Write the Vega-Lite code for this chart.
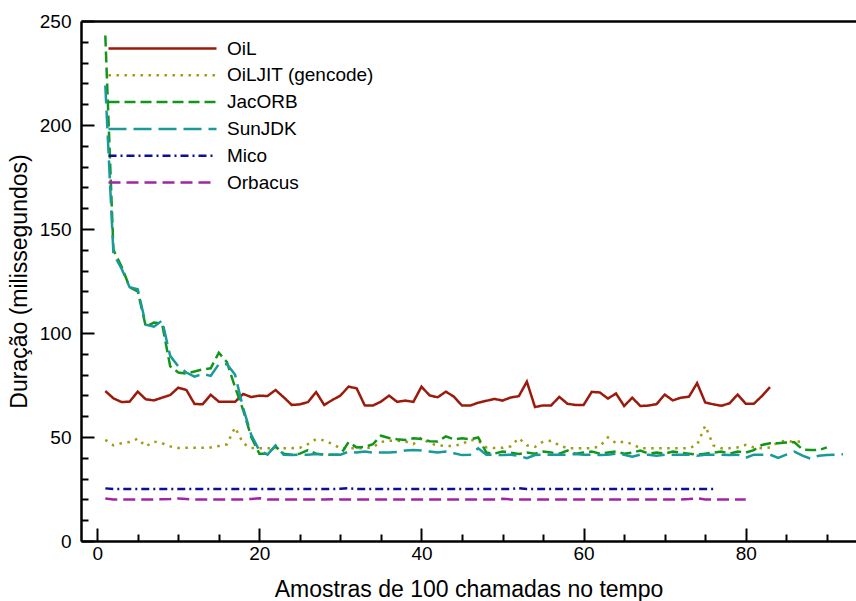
{
"$schema": "https://vega.github.io/schema/vega-lite/v6.json",
"width": 775, "height": 520,
"autosize": "none",
"padding": {"left": 81, "top": 21, "right": 0, "bottom": 60},
"background": "white",
"config": {"view": {"stroke": null}, "font": "Liberation Sans"},
"data": {"values": [
{"x":1,"OiL":72.1,"OiLJIT (gencode)":48.6,"JacORB":243,"SunJDK":219,"Mico":25.3,"Orbacus":20.4},
{"x":2,"OiL":68.6,"OiLJIT (gencode)":46,"JacORB":140,"SunJDK":138,"Mico":25,"Orbacus":20},
{"x":3,"OiL":66.8,"OiLJIT (gencode)":47,"JacORB":132,"SunJDK":131,"Mico":25,"Orbacus":20},
{"x":4,"OiL":67,"OiLJIT (gencode)":47.6,"JacORB":122,"SunJDK":122,"Mico":25,"Orbacus":20},
{"x":5,"OiL":71.8,"OiLJIT (gencode)":49.2,"JacORB":120,"SunJDK":121,"Mico":25,"Orbacus":20},
{"x":6,"OiL":68.1,"OiLJIT (gencode)":45.5,"JacORB":103,"SunJDK":104,"Mico":25,"Orbacus":20},
{"x":7,"OiL":67.6,"OiLJIT (gencode)":47.8,"JacORB":105,"SunJDK":103,"Mico":25,"Orbacus":20},
{"x":8,"OiL":68.9,"OiLJIT (gencode)":47,"JacORB":104.5,"SunJDK":106,"Mico":25,"Orbacus":20.1},
{"x":9,"OiL":70.2,"OiLJIT (gencode)":45.5,"JacORB":84,"SunJDK":89,"Mico":25,"Orbacus":20.2},
{"x":10,"OiL":73.7,"OiLJIT (gencode)":44.7,"JacORB":81,"SunJDK":84,"Mico":25,"Orbacus":20.4},
{"x":11,"OiL":72.6,"OiLJIT (gencode)":44.8,"JacORB":80.5,"SunJDK":81,"Mico":25,"Orbacus":20.2},
{"x":12,"OiL":65.9,"OiLJIT (gencode)":44.8,"JacORB":81.5,"SunJDK":79,"Mico":25,"Orbacus":20},
{"x":13,"OiL":65.7,"OiLJIT (gencode)":44.8,"JacORB":82.5,"SunJDK":80.3,"Mico":25,"Orbacus":20},
{"x":14,"OiL":70.3,"OiLJIT (gencode)":45,"JacORB":83,"SunJDK":79.4,"Mico":25,"Orbacus":20},
{"x":15,"OiL":67,"OiLJIT (gencode)":45.7,"JacORB":90.5,"SunJDK":85,"Mico":25,"Orbacus":20},
{"x":16,"OiL":66.9,"OiLJIT (gencode)":46.5,"JacORB":86,"SunJDK":85,"Mico":25,"Orbacus":20},
{"x":17,"OiL":66.9,"OiLJIT (gencode)":54.6,"JacORB":74,"SunJDK":80,"Mico":25,"Orbacus":20},
{"x":18,"OiL":70.7,"OiLJIT (gencode)":47,"JacORB":63,"SunJDK":64,"Mico":25,"Orbacus":20},
{"x":19,"OiL":69.2,"OiLJIT (gencode)":44.7,"JacORB":50,"SunJDK":51,"Mico":25,"Orbacus":20.2},
{"x":20,"OiL":69.9,"OiLJIT (gencode)":44.6,"JacORB":42,"SunJDK":43.5,"Mico":25,"Orbacus":20.5},
{"x":21,"OiL":69.7,"OiLJIT (gencode)":44.6,"JacORB":42,"SunJDK":41.5,"Mico":25,"Orbacus":20},
{"x":22,"OiL":72.6,"OiLJIT (gencode)":44.6,"JacORB":45.5,"SunJDK":46,"Mico":25,"Orbacus":20},
{"x":23,"OiL":69.1,"OiLJIT (gencode)":44.6,"JacORB":42,"SunJDK":41.5,"Mico":25,"Orbacus":20},
{"x":24,"OiL":65.4,"OiLJIT (gencode)":44.6,"JacORB":41.5,"SunJDK":41.3,"Mico":25,"Orbacus":20},
{"x":25,"OiL":65.7,"OiLJIT (gencode)":44.8,"JacORB":42,"SunJDK":41.5,"Mico":25,"Orbacus":20},
{"x":26,"OiL":66.8,"OiLJIT (gencode)":46.6,"JacORB":43.7,"SunJDK":41.5,"Mico":25,"Orbacus":20},
{"x":27,"OiL":71.6,"OiLJIT (gencode)":49,"JacORB":42,"SunJDK":41.8,"Mico":25,"Orbacus":20},
{"x":28,"OiL":65.4,"OiLJIT (gencode)":48.4,"JacORB":41.5,"SunJDK":41.5,"Mico":25,"Orbacus":20},
{"x":29,"OiL":67.8,"OiLJIT (gencode)":46.6,"JacORB":41.5,"SunJDK":41.5,"Mico":25,"Orbacus":20.1},
{"x":30,"OiL":69.9,"OiLJIT (gencode)":44.6,"JacORB":41.5,"SunJDK":41.5,"Mico":25.1,"Orbacus":20},
{"x":31,"OiL":74.2,"OiLJIT (gencode)":44.6,"JacORB":47.5,"SunJDK":42.9,"Mico":25.4,"Orbacus":20},
{"x":32,"OiL":73.4,"OiLJIT (gencode)":44.6,"JacORB":45,"SunJDK":42.5,"Mico":25,"Orbacus":20},
{"x":33,"OiL":65.2,"OiLJIT (gencode)":44.6,"JacORB":45.2,"SunJDK":43,"Mico":25,"Orbacus":20},
{"x":34,"OiL":65.1,"OiLJIT (gencode)":45,"JacORB":46.5,"SunJDK":42.5,"Mico":25,"Orbacus":20},
{"x":35,"OiL":67,"OiLJIT (gencode)":47.6,"JacORB":50.6,"SunJDK":42.5,"Mico":25,"Orbacus":20},
{"x":36,"OiL":69.9,"OiLJIT (gencode)":48.2,"JacORB":49.5,"SunJDK":42.5,"Mico":25,"Orbacus":20},
{"x":37,"OiL":66.9,"OiLJIT (gencode)":48.2,"JacORB":48.9,"SunJDK":42.8,"Mico":25,"Orbacus":20},
{"x":38,"OiL":67.5,"OiLJIT (gencode)":47.9,"JacORB":48.6,"SunJDK":43.5,"Mico":25,"Orbacus":20},
{"x":39,"OiL":66.9,"OiLJIT (gencode)":46.6,"JacORB":49.4,"SunJDK":43.7,"Mico":25,"Orbacus":20},
{"x":40,"OiL":74.2,"OiLJIT (gencode)":49.8,"JacORB":49,"SunJDK":43.5,"Mico":25,"Orbacus":20},
{"x":41,"OiL":70,"OiLJIT (gencode)":46.9,"JacORB":48,"SunJDK":43,"Mico":25,"Orbacus":20},
{"x":42,"OiL":69.1,"OiLJIT (gencode)":46,"JacORB":47.8,"SunJDK":42.5,"Mico":25,"Orbacus":20},
{"x":43,"OiL":71.8,"OiLJIT (gencode)":45.7,"JacORB":50.3,"SunJDK":43,"Mico":25,"Orbacus":20},
{"x":44,"OiL":69.4,"OiLJIT (gencode)":45.7,"JacORB":48.9,"SunJDK":42.2,"Mico":25,"Orbacus":20},
{"x":45,"OiL":65.1,"OiLJIT (gencode)":46.6,"JacORB":49.4,"SunJDK":41.3,"Mico":25,"Orbacus":20},
{"x":46,"OiL":65.1,"OiLJIT (gencode)":48.6,"JacORB":48.9,"SunJDK":41.5,"Mico":25,"Orbacus":20},
{"x":47,"OiL":66.5,"OiLJIT (gencode)":48.2,"JacORB":49.8,"SunJDK":44.6,"Mico":25,"Orbacus":20},
{"x":48,"OiL":67.4,"OiLJIT (gencode)":45,"JacORB":42.5,"SunJDK":41.5,"Mico":25,"Orbacus":20},
{"x":49,"OiL":68.3,"OiLJIT (gencode)":44.7,"JacORB":42,"SunJDK":41.5,"Mico":25,"Orbacus":20},
{"x":50,"OiL":67.5,"OiLJIT (gencode)":44.8,"JacORB":43,"SunJDK":41.3,"Mico":25,"Orbacus":20.3},
{"x":51,"OiL":69,"OiLJIT (gencode)":45.5,"JacORB":42.5,"SunJDK":41.5,"Mico":25,"Orbacus":20},
{"x":52,"OiL":69.6,"OiLJIT (gencode)":49.5,"JacORB":41.8,"SunJDK":41,"Mico":25.4,"Orbacus":20},
{"x":53,"OiL":76.6,"OiLJIT (gencode)":46,"JacORB":42.5,"SunJDK":39.8,"Mico":25,"Orbacus":20},
{"x":54,"OiL":64.4,"OiLJIT (gencode)":45.2,"JacORB":42,"SunJDK":41.3,"Mico":25,"Orbacus":20},
{"x":55,"OiL":65.2,"OiLJIT (gencode)":47.8,"JacORB":43,"SunJDK":41.5,"Mico":25,"Orbacus":20},
{"x":56,"OiL":65.2,"OiLJIT (gencode)":48.2,"JacORB":42.5,"SunJDK":41.5,"Mico":25,"Orbacus":20},
{"x":57,"OiL":69.3,"OiLJIT (gencode)":46,"JacORB":42,"SunJDK":41.5,"Mico":25,"Orbacus":20},
{"x":58,"OiL":66,"OiLJIT (gencode)":44.6,"JacORB":43.5,"SunJDK":41.5,"Mico":25,"Orbacus":20},
{"x":59,"OiL":65.4,"OiLJIT (gencode)":44.6,"JacORB":42,"SunJDK":41.8,"Mico":25,"Orbacus":20},
{"x":60,"OiL":65.4,"OiLJIT (gencode)":44.6,"JacORB":42.5,"SunJDK":41.5,"Mico":25,"Orbacus":20},
{"x":61,"OiL":71.7,"OiLJIT (gencode)":44.6,"JacORB":43,"SunJDK":41.5,"Mico":25,"Orbacus":20},
{"x":62,"OiL":71.4,"OiLJIT (gencode)":45.5,"JacORB":42,"SunJDK":41.3,"Mico":25,"Orbacus":20},
{"x":63,"OiL":68.5,"OiLJIT (gencode)":49.8,"JacORB":42.5,"SunJDK":41.5,"Mico":25,"Orbacus":20},
{"x":64,"OiL":70.9,"OiLJIT (gencode)":47,"JacORB":43,"SunJDK":42,"Mico":25,"Orbacus":20},
{"x":65,"OiL":64.9,"OiLJIT (gencode)":47.8,"JacORB":42,"SunJDK":41.5,"Mico":25,"Orbacus":20},
{"x":66,"OiL":68.9,"OiLJIT (gencode)":46.6,"JacORB":42.5,"SunJDK":40.5,"Mico":25,"Orbacus":20},
{"x":67,"OiL":64.9,"OiLJIT (gencode)":44.6,"JacORB":43.5,"SunJDK":41.5,"Mico":25,"Orbacus":20},
{"x":68,"OiL":65.1,"OiLJIT (gencode)":44.6,"JacORB":42,"SunJDK":41.5,"Mico":25,"Orbacus":20},
{"x":69,"OiL":65.8,"OiLJIT (gencode)":44.6,"JacORB":42.5,"SunJDK":41,"Mico":25,"Orbacus":20},
{"x":70,"OiL":70.4,"OiLJIT (gencode)":44.6,"JacORB":42,"SunJDK":41.5,"Mico":25,"Orbacus":20},
{"x":71,"OiL":67.6,"OiLJIT (gencode)":44.6,"JacORB":43,"SunJDK":41.5,"Mico":25,"Orbacus":20},
{"x":72,"OiL":68.9,"OiLJIT (gencode)":44.6,"JacORB":42.5,"SunJDK":41.5,"Mico":25,"Orbacus":20},
{"x":73,"OiL":69.4,"OiLJIT (gencode)":44.6,"JacORB":42,"SunJDK":41.5,"Mico":25,"Orbacus":20.2},
{"x":74,"OiL":75.9,"OiLJIT (gencode)":46.2,"JacORB":41.5,"SunJDK":41,"Mico":25,"Orbacus":20.5},
{"x":75,"OiL":66.6,"OiLJIT (gencode)":55.4,"JacORB":42,"SunJDK":41.5,"Mico":25,"Orbacus":20},
{"x":76,"OiL":65.7,"OiLJIT (gencode)":46,"JacORB":42.5,"SunJDK":41.5,"Mico":25,"Orbacus":20},
{"x":77,"OiL":65,"OiLJIT (gencode)":44.6,"JacORB":43,"SunJDK":41.5,"Orbacus":20},
{"x":78,"OiL":66.2,"OiLJIT (gencode)":44.6,"JacORB":42,"SunJDK":41.3,"Orbacus":20},
{"x":79,"OiL":70.4,"OiLJIT (gencode)":45,"JacORB":43,"SunJDK":41.5,"Orbacus":20},
{"x":80,"OiL":66,"OiLJIT (gencode)":46.2,"JacORB":42.5,"SunJDK":40,"Orbacus":20},
{"x":81,"OiL":66,"OiLJIT (gencode)":45,"JacORB":43.7,"SunJDK":41.5},
{"x":82,"OiL":69.7,"OiLJIT (gencode)":44.6,"JacORB":46.2,"SunJDK":41.5},
{"x":83,"OiL":74,"OiLJIT (gencode)":45,"JacORB":47,"SunJDK":41.5},
{"x":84,"OiLJIT (gencode)":47.5,"JacORB":47,"SunJDK":40},
{"x":85,"OiLJIT (gencode)":48.3,"JacORB":47.3,"SunJDK":41.5},
{"x":86,"OiLJIT (gencode)":47.5,"JacORB":47.5,"SunJDK":43},
{"x":87,"OiLJIT (gencode)":48,"JacORB":44,"SunJDK":41},
{"x":88,"JacORB":43.7,"SunJDK":39.6},
{"x":89,"JacORB":43.7,"SunJDK":41},
{"x":90,"JacORB":45,"SunJDK":41.3},
{"x":91,"SunJDK":41.5},
{"x":92,"SunJDK":41.7}
]},
"transform": [
{"fold": ["OiL","OiLJIT (gencode)","JacORB","SunJDK","Mico","Orbacus"], "as": ["serie","valor"]},
{"filter": "datum.valor != null"}
],
"mark": {"type": "line", "strokeWidth": 2.5, "clip": true},
"encoding": {
"x": {"field": "x", "type": "quantitative",
 "scale": {"domain": [-2, 93.6], "nice": false, "zero": false},
 "axis": {"values": [0,5,10,15,20,25,30,35,40,45,50,55,60,65,70,75,80,85,90],
  "labelExpr": "datum.value % 20 === 0 ? datum.label : ''",
  "tickSize": {"condition": {"test": "datum.value % 20 === 0", "value": -13}, "value": -7},
  "tickColor": "black", "tickWidth": 2,
  "domain": true, "domainColor": "black", "domainWidth": 2.5,
  "grid": false,
  "labelFont": "Liberation Sans", "labelFontSize": 19, "labelColor": "black", "labelPadding": 16,
  "title": "Amostras de 100 chamadas no tempo", "titleFont": "Liberation Sans", "titleFontSize": 23, "titleFontWeight": "normal", "titleColor": "black", "titlePadding": 15}},
"y": {"field": "valor", "type": "quantitative",
 "scale": {"domain": [0, 250], "nice": false, "zero": true},
 "axis": {"values": [0,10,20,30,40,50,60,70,80,90,100,110,120,130,140,150,160,170,180,190,200,210,220,230,240,250],
  "labelExpr": "datum.value % 50 === 0 ? datum.label : ''",
  "tickSize": {"condition": {"test": "datum.value % 50 === 0", "value": -13}, "value": -7},
  "tickColor": "black", "tickWidth": 2,
  "domain": true, "domainColor": "black", "domainWidth": 2.5,
  "grid": true, "gridColor": "black", "gridWidth": 2.5,
  "gridOpacity": {"condition": {"test": "datum.value === 250", "value": 1}, "value": 0},
  "labelFont": "Liberation Sans", "labelFontSize": 19, "labelColor": "black", "labelPadding": 23,
  "title": "Duração (milissegundos)", "titleFont": "Liberation Sans", "titleFontSize": 23, "titleFontWeight": "normal", "titleColor": "black", "titlePadding": 8}},
"color": {"field": "serie", "type": "nominal",
 "scale": {"domain": ["OiL","OiLJIT (gencode)","JacORB","SunJDK","Mico","Orbacus"],
  "range": ["#9b1a0c","#a09b13","#12961a","#19999a","#0b0f97","#a025a6"]},
 "legend": {"title": null, "orient": "none", "legendX": 26, "legendY": 17.5,
  "symbolType": "stroke", "symbolSize": 11664, "symbolStrokeWidth": 2.5,
  "clipHeight": 20, "rowPadding": 6.8, "labelOffset": 9, "padding": 0,
  "labelFont": "Liberation Sans", "labelFontSize": 19, "labelColor": "black"}},
"strokeDash": {"field": "serie", "type": "nominal",
 "scale": {"domain": ["OiL","OiLJIT (gencode)","JacORB","SunJDK","Mico","Orbacus"],
  "range": [[1,0],[2.5,5.5],[11,5],[18,7],[8,4,2,4],[12,6]]}}
}
}
